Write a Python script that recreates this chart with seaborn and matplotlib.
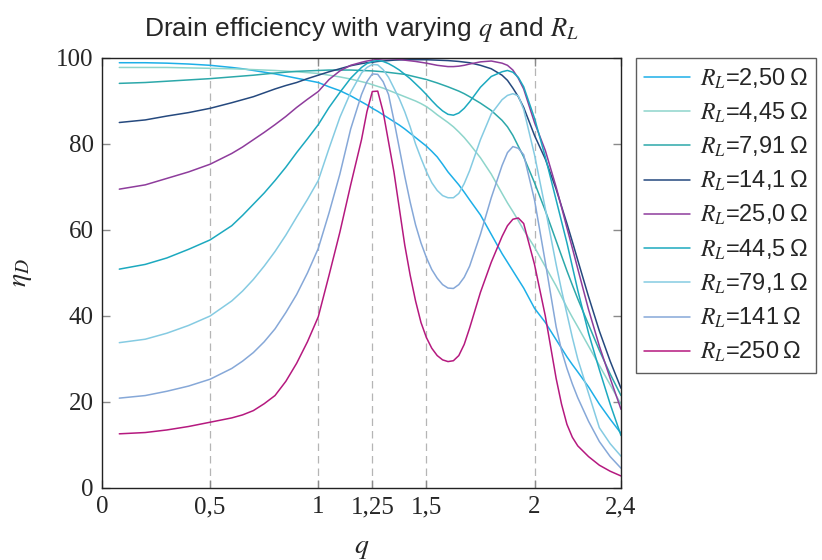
import numpy as np
import pandas as pd
import matplotlib
matplotlib.use("Agg")
import matplotlib.pyplot as plt
import seaborn as sns

# Data: drain efficiency (%) vs q for each R_L
q = [0.08, 0.2, 0.3, 0.4, 0.5, 0.6, 0.65, 0.7, 0.75, 0.8, 0.85, 0.9, 0.95, 1.0,
     1.05, 1.1, 1.15, 1.2,
     1.225, 1.25, 1.275, 1.3, 1.325, 1.35,
     1.375, 1.4, 1.425, 1.45, 1.475, 1.5, 1.525, 1.55, 1.575, 1.6,
     1.625, 1.65, 1.675, 1.7, 1.75, 1.8, 1.85,
     1.875, 1.9, 1.925, 1.95,
     2.0, 2.05, 2.1, 2.125, 2.15, 2.175, 2.2, 2.25, 2.3, 2.35, 2.4]

eta_2_50 = [98.9, 98.9, 98.8, 98.6, 98.3, 97.8, 97.5, 97.1, 96.7, 96.3, 95.8, 95.3, 94.8, 94.3,
            93.3, 92.4, 91.2, 89.8,
            89.1, 88.3, 87.6, 86.8, 86.0, 85.2,
            84.4, 83.5, 82.5, 81.5, 80.5, 79.5, 78.3, 77.0, 75.3, 73.5,
            72.0, 70.5, 68.8, 67.0, 63.5, 59.0, 54.5,
            52.5, 50.5, 48.5, 46.5,
            41.8, 38.5, 34.5, 32.5, 30.5, 28.7, 27.0, 23.5, 19.5, 16.0, 12.7]
eta_4_45 = [97.8, 97.8, 97.8, 97.7, 97.6, 97.5, 97.4, 97.3, 97.2, 97.1, 96.95, 96.8, 96.6, 96.4,
            96.0, 95.6, 95.1, 94.5,
            94.2, 93.8, 93.4, 93.0, 92.5, 92.0,
            91.5, 91.0, 90.5, 90.0, 89.4, 88.7, 87.8, 86.8, 85.9, 85.0,
            84.0, 82.8, 81.5, 80.0, 76.8, 73.0, 68.5,
            66.3, 64.3, 62.2, 60.0,
            56.0, 51.5, 47.0, 44.5, 42.0, 39.7, 37.5, 33.0, 28.5, 24.0, 19.5]
eta_7_91 = [94.1, 94.3, 94.6, 94.9, 95.2, 95.6, 95.8, 96.0, 96.25, 96.5, 96.7, 96.9, 97.0, 97.1,
            97.2, 97.2, 97.2, 97.1,
            97.05, 97.0, 96.9, 96.8, 96.65, 96.5,
            96.35, 96.2, 95.9, 95.6, 95.3, 95.0, 94.6, 94.2, 93.75, 93.3,
            92.8, 92.3, 91.7, 91.0, 89.5, 87.8, 85.5,
            84.0, 82.0, 79.5, 77.0,
            71.0, 64.5, 57.5, 54.0, 50.5, 47.2, 44.0, 38.0, 32.0, 26.5, 21.5]
eta_14_1 = [85.0, 85.6, 86.5, 87.3, 88.3, 89.6, 90.3, 91.0, 91.9, 92.8, 93.6, 94.3, 95.2, 96.0,
            96.8, 97.5, 98.2, 98.7,
            98.9, 99.0, 99.2, 99.3, 99.4, 99.5,
            99.55, 99.6, 99.6, 99.6, 99.6, 99.6, 99.55, 99.5, 99.45, 99.4,
            99.3, 99.2, 99.05, 98.9, 98.3, 97.5, 96.0,
            94.8, 93.0, 91.0, 88.5,
            82.0, 76.5, 69.5, 65.5, 61.5, 57.3, 53.0, 44.5, 36.5, 29.5, 23.2]
eta_25_0 = [69.5, 70.5, 72.0, 73.5, 75.3, 77.8, 79.3, 81.0, 82.7, 84.5, 86.4, 88.5, 90.4, 92.2,
            95.0, 97.0, 98.3, 99.0,
            99.3, 99.5, 99.7, 99.8, 99.8, 99.8,
            99.7, 99.5, 99.35, 99.2, 99.0, 98.8, 98.55, 98.3, 98.15, 98.0,
            98.0, 98.1, 98.3, 98.6, 99.1, 99.3, 98.8,
            98.3, 97.2, 95.3, 92.8,
            85.0, 78.5, 70.0, 65.3, 60.5, 55.8, 51.0, 41.5, 33.0, 25.5, 18.3]
eta_44_5 = [50.9, 52.0, 53.5, 55.5, 57.7, 61.0, 63.4, 66.0, 68.6, 71.5, 74.6, 78.0, 81.2, 84.5,
            88.5, 92.0, 95.3, 97.8,
            98.7, 99.2, 99.4, 99.2, 98.7, 98.0,
            97.2, 96.2, 95.2, 94.0, 92.8, 91.5, 90.1, 88.8, 87.7, 86.9,
            86.7, 87.2, 88.3, 89.8, 93.2, 95.7, 96.8,
            97.1, 96.7, 95.5, 93.3,
            86.0, 77.0, 67.0, 62.0, 57.0, 51.5, 46.0, 36.0, 27.5, 19.5, 12.2]
eta_79_1 = [33.8, 34.6, 36.0, 37.8, 40.0, 43.5, 45.8, 48.5, 51.6, 55.0, 58.8, 63.0, 67.1, 71.5,
            79.0, 86.2, 92.0, 96.5,
            97.8, 98.5, 98.4, 97.3, 95.5, 93.0,
            90.5, 87.5, 84.0, 80.0, 76.7, 73.6, 71.0, 69.2, 68.0, 67.5,
            67.5, 68.5, 70.8, 73.8, 81.0, 87.0, 90.3,
            91.3, 91.7, 91.2, 88.0,
            77.5, 65.0, 52.0, 46.0, 40.5, 35.0, 30.0, 22.0, 14.0, 10.3, 7.4]
eta_141 = [20.9, 21.5, 22.5, 23.7, 25.3, 27.8, 29.5, 31.5, 34.0, 37.0, 40.8, 45.0, 50.0, 55.7,
           64.0, 73.0, 83.5, 91.5,
           94.5, 96.3, 96.2, 94.5, 91.5, 85.5,
           79.0, 72.5, 66.5, 61.2, 57.0, 53.6, 50.8, 48.8, 47.3, 46.5,
           46.4, 47.3, 49.0, 51.6, 59.0, 67.5, 75.0,
           78.0, 79.4, 79.0, 77.5,
           67.0, 52.5, 37.5, 32.0, 27.8, 24.2, 21.0, 15.5, 10.8, 7.3, 4.6]
eta_250 = [12.6, 12.9, 13.5, 14.3, 15.3, 16.3, 17.0, 18.0, 19.6, 21.5, 24.8, 29.0, 34.0, 39.8,
           49.5, 59.5, 70.5, 81.0,
           87.5, 92.2, 92.3, 87.5, 80.5, 73.5,
           65.0, 56.5, 49.5, 43.5, 38.5, 35.0, 32.5, 30.8, 29.8, 29.4,
           29.6, 30.8, 33.4, 37.2, 45.5, 52.5, 58.5,
           61.0, 62.5, 62.8, 61.5,
           52.0, 40.0, 25.5, 19.5, 14.8, 11.8, 9.8, 7.3, 5.3, 3.9, 2.8]

labels = ["2,50", "4,45", "7,91", "14,1", "25,0", "44,5", "79,1", "141", "250"]
series = [eta_2_50, eta_4_45, eta_7_91, eta_14_1, eta_25_0,
          eta_44_5, eta_79_1, eta_141, eta_250]
colors = ["#1DAFE8", "#8ED5CB", "#2CA8AA", "#25497E", "#8E3C9C",
          "#1CA9BF", "#85CBE2", "#86A8D8", "#B5197F"]

# long format table for seaborn
rows = []
for lab, vals in zip(labels, series):
    name = "$R_L$=" + lab + "\u2009\u03a9"
    for qq, v in zip(q, vals):
        rows.append({"q": qq, "eta": v, "RL": name})
df = pd.DataFrame(rows)
names = list(df["RL"].unique())
palette = dict(zip(names, colors))

sns.set_theme(style="ticks")
plt.rcParams['font.family'] = ['Liberation Sans', 'DejaVu Sans']
plt.rcParams['mathtext.fontset'] = 'stix'

fig = plt.figure(figsize=(8.22, 5.6), dpi=100)
ax = fig.add_axes([102 / 822, 72 / 560, 519 / 822, 430 / 560])

# dashed vertical guides
for xv in [0.5, 1, 1.25, 1.5, 2]:
    ax.axvline(xv, color="#b5b5b5", lw=0.9, ls=(0, (6, 4)), zorder=0)

sns.lineplot(data=df, x="q", y="eta", hue="RL", hue_order=names,
             palette=palette, linewidth=1.1, sort=False, ax=ax)

ax.set_xlim(0, 2.4)
ax.set_ylim(0, 100)
ax.set_xticks([0, 0.5, 1, 1.25, 1.5, 2, 2.4])
ax.set_xticklabels(["0", "0,5", "1", "1,25", "1,5", "2", "2,4"],
                   family="Liberation Serif", fontsize=18)
ax.set_yticks([0, 20, 40, 60, 80, 100])
ax.set_yticklabels(["0", "20", "40", "60", "80", "100"],
                   family="Liberation Serif", fontsize=18)
ax.tick_params(direction="in", top=True, right=True, length=6,
               width=1, color="#8a8a8a", pad=6)
for sp in ax.spines.values():
    sp.set_color("#222222")
    sp.set_linewidth(1.0)

ax.set_xlabel("$q$", fontsize=20, labelpad=12)
ax.set_ylabel("$\\eta_D$", fontsize=20, labelpad=16)
ax.set_title("Drain efficiency with varying $q$ and $R_L$", fontsize=19, pad=16)

sns.move_legend(ax, loc="upper left", bbox_to_anchor=(636 / 822, 1 - 58 / 560),
                bbox_transform=fig.transFigure, title=None, frameon=True,
                fancybox=False, edgecolor="#333333", fontsize=17,
                handlelength=1.95, labelspacing=0.42, borderaxespad=0,
                borderpad=0.35, handletextpad=0.4)
leg = ax.get_legend()
leg.get_frame().set_linewidth(1.0)
for line in leg.get_lines():
    line.set_linewidth(1.1)

fig.savefig("out.png", dpi=100)
